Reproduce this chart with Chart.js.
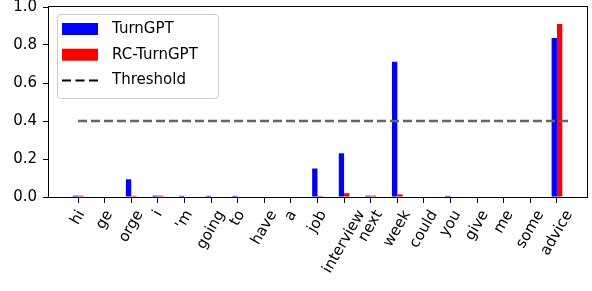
<!DOCTYPE html>
<html lang="en">
<head>
    <meta charset="UTF-8">
    <title>TurnGPT vs RC-TurnGPT</title>
    <style>
        body {
            margin: 0;
            background-color: #ffffff;
        }
        #wrap {
            width: 592px;
            height: 291px;
        }
    </style>
    <script src="https://cdn.jsdelivr.net/npm/chart.js"></script>
</head>
<body>
    <div id="wrap"><canvas id="turnChart"></canvas></div>
    <script>
        const tokens = ['hi', 'ge', 'orge', 'i', "'m", 'going', 'to', 'have', 'a', 'job',
            'interview', 'next', 'week', 'could', 'you', 'give', 'me', 'some', 'advice'];
        const turnGPT = [0.007, 0, 0.093, 0.007, 0.006, 0.006, 0.006, 0, 0, 0.15,
            0.23, 0.007, 0.712, 0, 0.006, 0, 0, 0, 0.837];
        const rcTurnGPT = [0.007, 0, 0.006, 0.007, 0, 0, 0, 0, 0, 0.006,
            0.02, 0.007, 0.014, 0, 0, 0, 0, 0, 0.91];
        const threshold = 0.4;
        const yTicks = [0, 0.2, 0.4, 0.6, 0.8, 1.0];

        const FONT = '15px "DejaVu Sans"';

        // matplotlib-like frame (all four spines)
        const framePlugin = {
            id: 'frame',
            afterDatasetsDraw(chart) {
                const a = chart.chartArea;
                const ctx = chart.ctx;
                ctx.save();
                ctx.strokeStyle = '#000';
                ctx.lineWidth = 1;
                ctx.strokeRect(Math.round(a.left) - 0.5, Math.round(a.top) - 0.5,
                    Math.round(a.right - a.left) + 1, Math.round(a.bottom - a.top) + 1);
                ctx.restore();
            }
        };

        // rotated x labels, centred under each tick like matplotlib rotation=60
        const xLabelPlugin = {
            id: 'xLabels',
            afterDraw(chart) {
                const ctx = chart.ctx;
                const xs = chart.scales.x;
                const top = chart.chartArea.bottom + 11;
                const ang = Math.PI / 3;
                ctx.save();
                ctx.font = FONT;
                ctx.fillStyle = '#000';
                ctx.textAlign = 'center';
                ctx.textBaseline = 'middle';
                tokens.forEach((t, i) => {
                    const w = ctx.measureText(t).width;
                    const h = 15;
                    const H = w * Math.sin(ang) + h * Math.cos(ang);
                    ctx.save();
                    ctx.translate(xs.getPixelForValue(i), top + H / 2);
                    ctx.rotate(-ang);
                    ctx.fillText(t, 0, 0);
                    ctx.restore();
                });
                ctx.restore();
            }
        };

        // legend box in the upper left of the axes
        const legendPlugin = {
            id: 'boxLegend',
            afterDraw(chart) {
                const ctx = chart.ctx;
                const a = chart.chartArea;
                const x0 = a.left + 8, y0 = a.top + 7, w = 161, h = 84;
                ctx.save();
                ctx.beginPath();
                ctx.roundRect(x0 + 0.5, y0 + 0.5, w, h, 3);
                ctx.fillStyle = 'rgba(255,255,255,0.8)';
                ctx.fill();
                ctx.strokeStyle = '#cccccc';
                ctx.lineWidth = 1;
                ctx.stroke();

                ctx.font = FONT;
                ctx.textBaseline = 'middle';
                ctx.textAlign = 'left';
                const items = chart.data.datasets;
                items.forEach((ds, k) => {
                    const cy = y0 + 15 + k * 25.7;
                    if (ds.type === 'line') {
                        ctx.strokeStyle = '#000';
                        ctx.lineWidth = 2;
                        ctx.setLineDash([9, 4.5]);
                        ctx.beginPath();
                        ctx.moveTo(x0 + 5, cy);
                        ctx.lineTo(x0 + 41, cy);
                        ctx.stroke();
                        ctx.setLineDash([]);
                    } else {
                        ctx.fillStyle = ds.backgroundColor;
                        ctx.fillRect(x0 + 5, cy - 6, 36, 12);
                    }
                    ctx.fillStyle = '#000';
                    ctx.fillText(ds.label, x0 + 55, cy);
                });
                ctx.restore();
            }
        };

        const ctx = document.getElementById('turnChart').getContext('2d');
        const chart = new Chart(ctx, {
            type: 'bar',
            data: {
                datasets: [
                    {
                        label: 'TurnGPT',
                        data: turnGPT.map((v, i) => ({ x: i, y: v })),
                        backgroundColor: '#0000ff',
                        categoryPercentage: 0.4,
                        barPercentage: 1.0,
                        order: 1
                    },
                    {
                        label: 'RC-TurnGPT',
                        data: rcTurnGPT.map((v, i) => ({ x: i, y: v })),
                        backgroundColor: '#ff0000',
                        categoryPercentage: 0.4,
                        barPercentage: 1.0,
                        order: 1
                    },
                    {
                        type: 'line',
                        label: 'Threshold',
                        data: [{ x: 0, y: threshold }, { x: tokens.length - 0.5, y: threshold }],
                        borderColor: '#666666',
                        borderWidth: 2.5,
                        borderDash: [9, 4],
                        pointRadius: 0,
                        fill: false,
                        order: 0
                    }
                ]
            },
            options: {
                responsive: true,
                maintainAspectRatio: false,
                animation: false,
                layout: { padding: { top: 7, right: 5, left: 0, bottom: 0 } },
                plugins: {
                    legend: { display: false },
                    tooltip: { enabled: false }
                },
                scales: {
                    x: {
                        type: 'linear',
                        offset: false,
                        min: -1.09,
                        max: tokens.length - 1 + 1.13,
                        afterBuildTicks: axis => {
                            axis.ticks = tokens.map((_, i) => ({ value: i }));
                        },
                        afterFit: axis => {
                            axis.height = 94;
                            axis.paddingLeft = 0;
                            axis.paddingRight = 0;
                        },
                        ticks: { display: false },
                        grid: {
                            offset: false,
                            drawOnChartArea: false,
                            drawTicks: true,
                            tickLength: 6,
                            color: '#000'
                        },
                        border: { display: false }
                    },
                    y: {
                        min: 0,
                        max: 1,
                        afterBuildTicks: axis => {
                            axis.ticks = yTicks.map(v => ({ value: v }));
                        },
                        afterFit: axis => {
                            axis.width = 49;
                            axis.paddingTop = 0;
                            axis.paddingBottom = 0;
                        },
                        ticks: {
                            color: '#000',
                            font: { family: 'DejaVu Sans', size: 15 },
                            padding: 6,
                            callback: v => v.toFixed(1)
                        },
                        grid: {
                            drawOnChartArea: false,
                            drawTicks: true,
                            tickLength: 6,
                            color: '#000'
                        },
                        border: { display: false }
                    }
                }
            },
            plugins: [framePlugin, xLabelPlugin, legendPlugin]
        });
    </script>
</body>
</html>
